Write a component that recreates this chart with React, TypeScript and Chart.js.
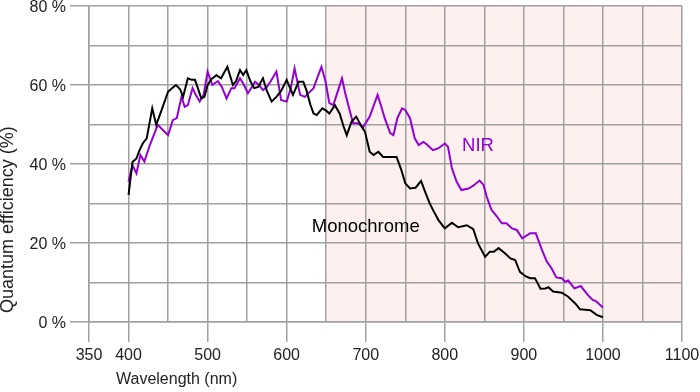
import React, { useEffect, useRef } from "react";
import { Chart, registerables } from "chart.js";

Chart.register(...registerables);

// Monochrome sensor quantum efficiency: [wavelength nm, QE %]
const monoWavelengths = [
  400, 405, 410, 414, 418, 423, 430, 435, 441, 450, 455, 460, 465, 469, 475, 480, 484, 488, 492, 496,
  500, 505, 511, 517, 525, 532, 536, 541, 545, 549, 554, 559, 564, 570, 575, 581, 587, 593, 600, 608,
  615, 621, 625, 630, 634, 638, 645, 650, 654, 661, 667, 672, 676, 682, 688, 695, 699, 705, 710, 716,
  722, 730, 739, 745, 750, 756, 763, 770, 775, 781, 786, 792, 800, 809, 817, 828, 836, 842, 851, 857,
  862, 868, 876, 883, 889, 895, 902, 908, 914, 921, 927, 931, 937, 948, 956, 965, 971, 984, 992, 1000,
];
const monoValues = [
  32.2, 40.5, 41.4, 43.5, 45.2, 46.5, 54.1, 49.9, 53.2, 58.3, 59.2, 60, 59, 57, 61.7, 61.3, 61.3, 59, 56.6, 57,
  60, 61.5, 62.5, 61.7, 64.6, 60, 61, 63.8, 62.5, 63.8, 61, 59.2, 59.5, 61.7, 58.5, 55.8, 57, 58.5, 61.3, 57.5,
  60.8, 60.8, 58.7, 55, 52.8, 52.4, 54.1, 53.5, 52.8, 54.9, 52.8, 49.5, 47.3, 50.7, 52, 49.4, 48.2, 43.1, 42.3, 43.1,
  41.8, 41.8, 41.8, 38.5, 35.1, 33.8, 34, 35.7, 33, 30, 28, 25.8, 23.7, 25.1, 24, 24.5, 23.5, 19.9, 16.5, 17.8,
  17.8, 18.7, 17.4, 16.1, 15.7, 12.7, 11.6, 11.1, 11.1, 8.4, 8.5, 8.8, 7.7, 7.4, 6.4, 4.7, 3.2, 3.0, 1.8, 1.2,
];

// NIR sensor quantum efficiency
const nirWavelengths = [
  400, 405, 410, 415, 420, 427, 437, 444, 450, 456, 461, 467, 471, 475, 481, 485, 490, 495, 500, 506,
  513, 518, 524, 530, 534, 541, 546, 551, 556, 560, 565, 570, 575, 580, 587, 593, 600, 605, 610, 617,
  623, 628, 634, 640, 644, 649, 654, 659, 664, 670, 674, 678, 684, 690, 697, 705, 715, 719, 724, 731,
  735, 740, 746, 750, 756, 762, 767, 773, 777, 785, 792, 800, 804, 809, 815, 821, 830, 836, 844, 849,
  853, 859, 866, 872, 878, 885, 891, 898, 908, 915, 923, 929, 935, 941, 948, 952, 956, 964, 972, 981,
  987, 991, 1000,
];
const nirValues = [
  35.5, 39.7, 37.6, 42.3, 40.6, 44.8, 49.9, 48.5, 47.3, 51.1, 51.6, 57, 54.5, 54.9, 59.2, 57.5, 55.8, 57.5, 63.4, 60,
  61, 59.5, 56.6, 59.2, 59.2, 61.7, 60, 57.9, 59.5, 60.8, 60, 58.7, 59.5, 61, 63.4, 56.2, 55.8, 59, 64.2, 57.5,
  57, 58, 59.2, 62.5, 64.6, 61, 55.4, 54.9, 58, 61.7, 58, 54.9, 50.3, 50.3, 49.4, 52, 57.5, 55, 51.6, 47.8,
  47.3, 51.6, 54.1, 53.7, 51.6, 46.5, 44.8, 45.6, 45, 43.5, 44, 45.2, 44.4, 38.9, 35.5, 33.4, 33.8, 34.5, 35.8, 34.7,
  31.7, 28.4, 26.7, 25, 25, 23.7, 23.3, 21.2, 22.5, 22.5, 18.2, 15.3, 13.6, 11.3, 11.1, 10.2, 10.5, 8.5, 9.1, 6.8,
  5.6, 5.3, 3.7,
];

const xLabelValues = [350, 400, 500, 600, 700, 800, 900, 1000, 1100];
const yLabelValues = [0, 20, 40, 60, 80];
const nirRange = [650, 1100];

const seriesNames = ["Monochrome", "NIR"];
const seriesColors = ["#000000", "#9400d3"];
const annotationAnchors = [
  { text: "Monochrome", x: 700, y: 24, color: "#000000" },
  { text: "NIR", x: 842, y: 44.5, color: "#9400d3" },
];

const FONT = "'Liberation Sans', Arial, sans-serif";
const GRID = "#a0a0a0";
const TEXT = "#222222";

export default function App() {
  const ref = useRef<HTMLCanvasElement | null>(null);

  useEffect(() => {
    if (!ref.current) return;

    const backgroundPlugin = {
      id: "nirBand",
      beforeDraw(chart: any) {
        const { ctx, chartArea, scales } = chart;
        const x0 = scales.x.getPixelForValue(nirRange[0]);
        const x1 = scales.x.getPixelForValue(nirRange[1]);
        ctx.save();
        ctx.fillStyle = "#fff0f0";
        ctx.fillRect(x0, chartArea.top, x1 - x0, chartArea.bottom - chartArea.top);
        ctx.restore();
      },
      afterDraw(chart: any) {
        const { ctx, scales } = chart;
        ctx.save();
        ctx.font = `18.5px ${FONT}`;
        ctx.textAlign = "center";
        ctx.textBaseline = "middle";
        for (const a of annotationAnchors) {
          ctx.fillStyle = a.color;
          ctx.fillText(a.text, scales.x.getPixelForValue(a.x), scales.y.getPixelForValue(a.y));
        }
        // axis titles
        ctx.fillStyle = TEXT;
        ctx.font = `16px ${FONT}`;
        ctx.textAlign = "left";
        ctx.fillText("Wavelength (nm)", 116, 380);
        ctx.translate(8, 313);
        ctx.rotate(-Math.PI / 2);
        ctx.font = `18px ${FONT}`;
        ctx.textAlign = "left";
        ctx.fillText("Quantum efficiency (%)", 0, 0);
        ctx.restore();
      },
    };

    const chart = new Chart(ref.current, {
      type: "line",
      data: {
        datasets: [
          {
            label: seriesNames[0],
            data: monoWavelengths.map((x, i) => ({ x, y: monoValues[i] })),
            borderColor: seriesColors[0],
            borderWidth: 2,
            pointRadius: 0,
            tension: 0,
          },
          {
            label: seriesNames[1],
            data: nirWavelengths.map((x, i) => ({ x, y: nirValues[i] })),
            borderColor: seriesColors[1],
            borderWidth: 2,
            pointRadius: 0,
            tension: 0,
          },
        ],
      },
      options: {
        animation: false,
        responsive: false,
        events: [],
        layout: { padding: { top: 6, right: 18, left: 0, bottom: 0 } },
        plugins: { legend: { display: false }, tooltip: { enabled: false } },
        scales: {
          x: {
            type: "linear",
            min: 350,
            max: 1100,
            ticks: {
              stepSize: 50,
              autoSkip: false,
              maxRotation: 0,
              padding: 4,
              color: TEXT,
              font: { family: FONT, size: 16 },
              callback: (v: any) => (xLabelValues.includes(Number(v)) ? String(v) : ""),
            },
            grid: {
              color: GRID,
              lineWidth: 1.5,
              tickLength: 20,
              tickColor: (c: any) => (c.tick && xLabelValues.includes(c.tick.value) ? GRID : "rgba(0,0,0,0)"),
            },
            border: { color: GRID, width: 1.5 },
            afterFit: (s: any) => {
              s.height = 70;
              s.paddingLeft = 0;
              s.paddingRight = 0;
            },
          },
          y: {
            type: "linear",
            min: 0,
            max: 80,
            ticks: {
              stepSize: 10,
              autoSkip: false,
              padding: 4,
              labelOffset: 2,
              color: TEXT,
              font: { family: FONT, size: 16 },
              callback: (v: any) => (yLabelValues.includes(Number(v)) ? `${v} %` : ""),
            },
            grid: {
              color: GRID,
              lineWidth: 1.5,
              tickLength: 19,
              tickColor: (c: any) => (c.tick && yLabelValues.includes(c.tick.value) ? GRID : "rgba(0,0,0,0)"),
            },
            border: { color: GRID, width: 1.5 },
            afterFit: (s: any) => {
              s.width = 89;
              s.paddingTop = 0;
              s.paddingBottom = 0;
            },
          },
        },
      },
      plugins: [backgroundPlugin],
    });

    return () => chart.destroy();
  }, []);

  return (
    <div style={{ position: "absolute", left: 0, top: 0, width: 700, height: 392, background: "#fff" }}>
      <canvas ref={ref} width={700} height={392} />
    </div>
  );
}
